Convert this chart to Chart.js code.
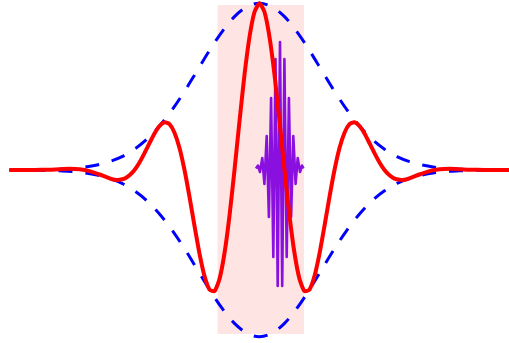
<!DOCTYPE html>
<html>
<head>
<meta charset="utf-8">
<script src="https://cdn.jsdelivr.net/npm/chart.js@4/dist/chart.umd.min.js"></script>
<style>
  body { margin: 0; background: #fff; }
  #wrap { width: 509px; height: 343px; }
</style>
</head>
<body>
<div id="wrap"><canvas id="myChart"></canvas></div>
<script>
// red wave packet
const redX = [-5, -4.5, -4.2, -4, -3.8, -3.6, -3.4, -3.2, -3,
  -2.9, -2.8, -2.7, -2.6, -2.5, -2.4, -2.3, -2.2, -2.1, -2,
  -1.9, -1.8, -1.7, -1.6, -1.5, -1.4, -1.3, -1.2, -1.1, -1,
  -0.9, -0.8, -0.7, -0.6, -0.5, -0.4, -0.3, -0.2, -0.1, 0,
  0.1, 0.2, 0.3, 0.4, 0.5, 0.6, 0.7, 0.8, 0.9, 1,
  1.1, 1.2, 1.3, 1.4, 1.5, 1.6, 1.7, 1.8, 1.9, 2,
  2.1, 2.2, 2.3, 2.4, 2.5, 2.6, 2.7, 2.8, 2.9,
  3, 3.2, 3.4, 3.6, 3.8, 4, 4.2, 4.5, 5];
const redY = [0, 0, 0.002, 0.005, 0.007, 0.004, -0.007, -0.027, -0.05,
  -0.058, -0.059, -0.052, -0.032, 0, 0.045, 0.101, 0.161, 0.219, 0.264,
  0.286, 0.275, 0.224, 0.132, 0, -0.161, -0.335, -0.501, -0.636, -0.717,
  -0.726, -0.654, -0.499, -0.274, 0, 0.293, 0.571, 0.798, 0.948, 1,
  0.948, 0.798, 0.571, 0.293, 0, -0.274, -0.499, -0.654, -0.726, -0.717,
  -0.636, -0.501, -0.335, -0.161, 0, 0.132, 0.224, 0.275, 0.286, 0.264,
  0.219, 0.161, 0.101, 0.045, 0, -0.032, -0.052, -0.059, -0.058,
  -0.05, -0.027, -0.007, 0.004, 0.007, 0.005, 0.002, 0, 0];

// gaussian envelope (upper / lower)
const envX = [-5, -4.75, -4.5, -4.25, -4, -3.75, -3.5, -3.25, -3, -2.75,
  -2.5, -2.25, -2, -1.75, -1.5, -1.25, -1, -0.75, -0.5, -0.25, 0,
  0.25, 0.5, 0.75, 1, 1.25, 1.5, 1.75, 2, 2.25, 2.5,
  2.75, 3, 3.25, 3.5, 3.75, 4, 4.25, 4.5, 4.75, 5];
const envUp = [0, 0.001, 0.001, 0.002, 0.005, 0.009, 0.017, 0.03, 0.05, 0.08,
  0.125, 0.185, 0.264, 0.36, 0.472, 0.594, 0.717, 0.829, 0.92, 0.979, 1,
  0.979, 0.92, 0.829, 0.717, 0.594, 0.472, 0.36, 0.264, 0.185, 0.125,
  0.08, 0.05, 0.03, 0.017, 0.009, 0.005, 0.002, 0.001, 0.001, 0];
const envLow = [0, -0.001, -0.001, -0.002, -0.005, -0.009, -0.017, -0.03, -0.05, -0.08,
  -0.125, -0.185, -0.264, -0.36, -0.472, -0.594, -0.717, -0.829, -0.92, -0.979, -1,
  -0.979, -0.92, -0.829, -0.717, -0.594, -0.472, -0.36, -0.264, -0.185, -0.125,
  -0.08, -0.05, -0.03, -0.017, -0.009, -0.005, -0.002, -0.001, -0.001, 0];

// purple fast oscillation
const purX = [-0.07, -0.03, 0.01, 0.056, 0.098, 0.144, 0.188, 0.232, 0.276, 0.32,
  0.364, 0.41, 0.454, 0.498, 0.544, 0.588, 0.632, 0.676, 0.722, 0.764,
  0.81, 0.85, 0.88];
const purY = [0.009, 0.027, -0.012, 0.072, -0.084, 0.204, -0.282, 0.432, -0.522, 0.666,
  -0.696, 0.768, -0.696, 0.666, -0.522, 0.432, -0.282, 0.204, -0.084, 0.072,
  -0.012, 0.027, 0.009];

// shaded band
const bandX = [-0.844, 0.89];
const bandTop = 0.99;
const bandBottom = -0.984;

const pts = (xs, ys) => xs.map((x, i) => ({ x: x, y: ys[i] }));

const ctx = document.getElementById("myChart");

new Chart(ctx, {
  type: "line",
  data: {
    datasets: [
      {
        data: pts(redX, redY),
        borderColor: "#ff0000",
        borderWidth: 4,
        pointRadius: 0,
        tension: 0.2,
        order: 0,
      },
      {
        data: pts(purX, purY),
        borderColor: "#8a10e0",
        borderWidth: 2.6,
        borderJoinStyle: "round",
        pointRadius: 0,
        tension: 0,
        order: 1,
      },
      {
        data: pts(envX, envUp),
        borderColor: "#0000ff",
        borderWidth: 3,
        borderDash: [14, 13],
        borderDashOffset: 5,
        pointRadius: 0,
        cubicInterpolationMode: "monotone",
        order: 2,
      },
      {
        data: pts(envX, envLow),
        borderColor: "#0000ff",
        borderWidth: 3,
        borderDash: [14, 13],
        borderDashOffset: 5,
        pointRadius: 0,
        cubicInterpolationMode: "monotone",
        order: 2,
      },
      {
        data: bandX.map((x) => ({ x: x, y: bandTop })),
        borderWidth: 0,
        borderColor: "rgba(0,0,0,0)",
        backgroundColor: "#ffe4e4",
        pointRadius: 0,
        fill: { value: bandBottom },
        order: 3,
      },
    ],
  },
  options: {
    responsive: true,
    maintainAspectRatio: false,
    animation: false,
    layout: { padding: 0 },
    plugins: {
      legend: { display: false },
      tooltip: { enabled: false },
    },
    scales: {
      x: { type: "linear", min: -5.19, max: 4.99, display: false },
      y: { min: -1.0378, max: 1.0198, display: false },
    },
  },
});
</script>
</body>
</html>
